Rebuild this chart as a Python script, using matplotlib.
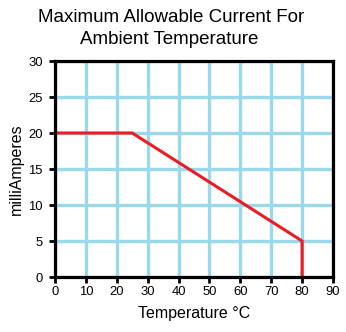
import matplotlib
matplotlib.use("Agg")
import matplotlib.pyplot as plt

temps = [0, 25, 80, 80]
current = [20, 20, 5, 0]
xticks = [0, 10, 20, 30, 40, 50, 60, 70, 80, 90]
yticks = [0, 5, 10, 15, 20, 25, 30]

plt.rcParams['font.family'] = ['Liberation Sans', 'DejaVu Sans']

W, H = 346, 332
fig = plt.figure(figsize=(W/100, H/100), dpi=100)
ax = fig.add_axes([55/W, 1-277/H, (333-55)/W, (277-61)/H])

ax.set_xlim(0, 90)
ax.set_ylim(0, 30)
ax.set_xticks(xticks)
ax.set_yticks(yticks)
ax.grid(True, color='#99D9EA', linewidth=2.4)
ax.set_axisbelow(True)
ax.plot(temps, current, color='#ED1C24', linewidth=2.2, solid_joinstyle='miter', zorder=3, clip_on=False)

for s in ax.spines.values():
    s.set_linewidth(2.3)
    s.set_color('black')
    s.set_zorder(4)
ax.tick_params(axis='y', direction='out', length=4.3, width=2, labelsize=9.4, pad=4.5, colors='black')
ax.tick_params(axis='x', direction='out', length=4.3, width=2, labelsize=9.4, pad=2.5, colors='black')

ax.set_xlabel('Temperature °C', fontsize=11.5)
ax.xaxis.set_label_coords((194-55)/278, (277-306)/216)
ax.set_ylabel('milliAmperes', fontsize=11.5)
ax.yaxis.set_label_coords((24-55)/278, 0.5)

fig.text(171.5/W, 1-22/H, 'Maximum Allowable Current For', ha='center', va='baseline', fontsize=13.5)
fig.text(169/W, 1-43.5/H, 'Ambient Temperature', ha='center', va='baseline', fontsize=13.5)

fig.savefig('out.png', dpi=100)
